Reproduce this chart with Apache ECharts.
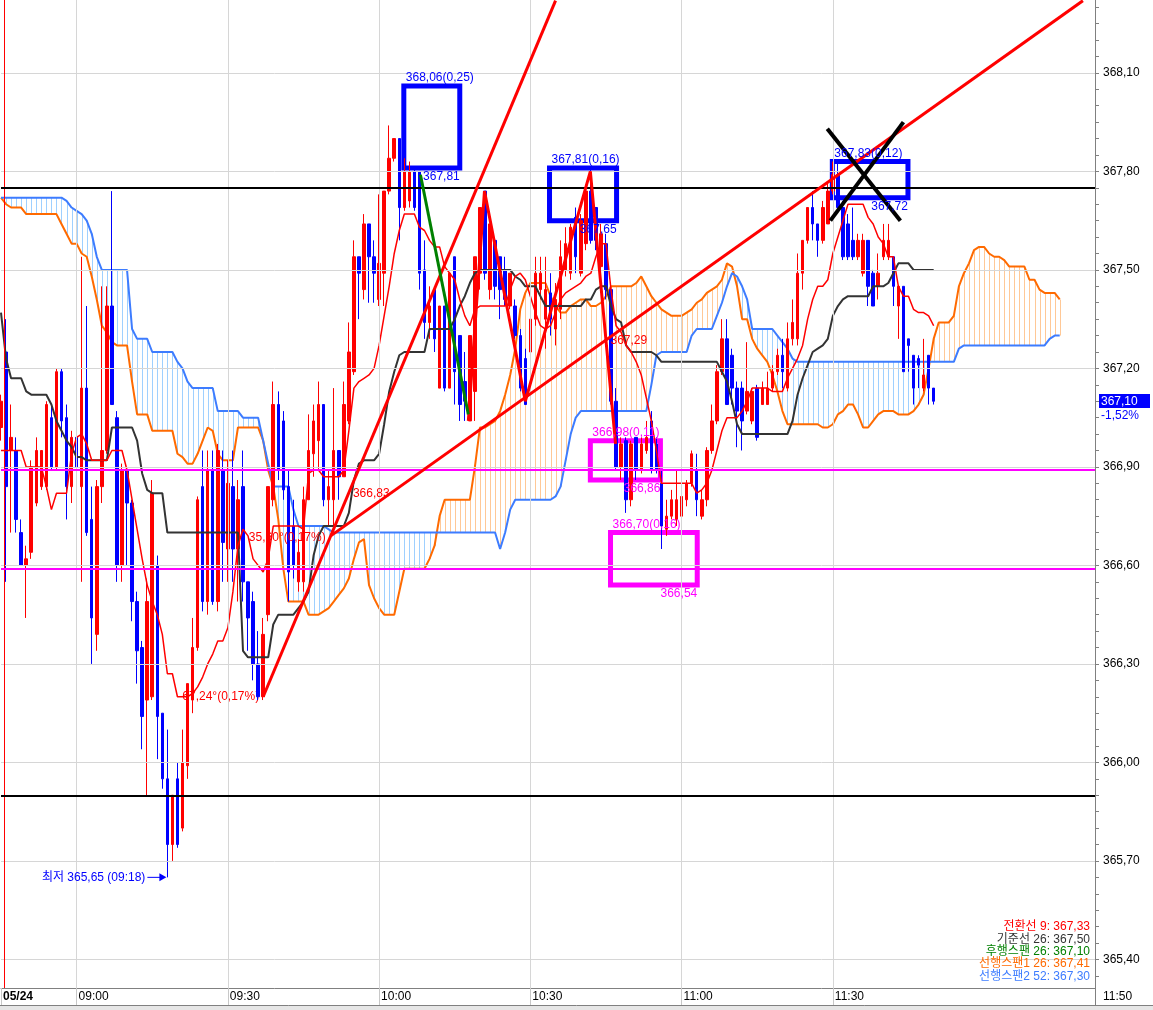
<!DOCTYPE html>
<html>
<head>
<meta charset="utf-8">
<title>1분봉 일목균형표</title>
<script src="https://cdn.jsdelivr.net/npm/echarts@6/dist/echarts.min.js"></script>
<style>
html,body{margin:0;padding:0;background:#fff;}
#main{width:1153px;height:1010px;}
</style>
</head>
<body>
<div id="main"></div>
<script>
var FONT = "'Liberation Sans Narrow','Liberation Sans','Noto Sans CJK KR',sans-serif";
var chart = echarts.init(document.getElementById('main'));

//1분봉 시가/종가/고가/저가 (08:45 ~ 11:50)
var opens = [
	367.02,367.25,366.95,366.95,366.70,366.60,366.64,366.79,366.84,366.84,
	367.05,366.90,367.19,367.05,366.84,366.99,366.84,367.14,366.74,366.39,
	366.84,366.95,367.39,367.05,366.60,366.89,366.79,366.49,366.35,366.19,
	366.20,366.60,366.15,365.95,365.75,365.95,365.80,365.99,366.19,366.35,
	366.84,366.49,366.89,366.49,366.89,366.65,366.84,366.65,366.84,366.55,
	366.49,366.30,366.20,366.45,366.80,367.09,367.04,366.84,366.72,366.55,
	366.55,366.80,366.94,366.98,367.09,366.80,366.80,366.95,366.87,367.04,
	367.19,367.54,367.44,367.64,367.54,367.41,367.49,367.74,367.84,367.90,
	367.69,367.71,367.80,367.80,367.50,367.34,367.44,367.14,367.39,367.14,
	367.54,367.30,367.16,367.04,367.13,367.49,367.74,367.44,367.59,367.54,
	367.50,367.39,367.39,367.30,367.23,367.25,367.35,367.44,367.35,367.43,
	367.32,367.38,367.50,367.49,367.66,367.49,367.58,367.74,367.69,367.51,
	367.58,367.44,367.10,366.90,366.98,366.80,366.99,366.89,366.95,367.04,
	366.97,366.85,366.71,366.75,366.74,366.75,366.80,366.85,366.89,366.75,
	366.80,366.95,367.04,367.19,367.29,367.24,367.14,367.14,367.07,367.04,
	367.14,367.09,367.09,367.14,367.19,367.24,367.14,367.29,367.29,367.49,
	367.59,367.69,367.64,367.59,367.64,367.74,367.79,367.69,367.64,367.59,
	367.54,367.49,367.59,367.49,367.45,367.54,367.54,367.54,367.39,367.45,
	367.29,367.24,367.23,367.14,367.24,367.14
];
var closes = [
	367.10,366.84,366.99,366.74,366.60,366.62,366.90,366.95,366.95,367.09,
	366.90,367.19,367.04,366.84,366.99,366.90,367.14,366.70,366.44,366.84,
	366.95,367.39,367.09,366.60,366.89,366.79,366.49,366.34,366.14,366.49,
	366.82,366.14,365.95,365.75,365.90,365.75,366.00,366.24,366.35,366.80,
	366.49,366.89,366.49,366.95,366.67,366.85,366.65,366.80,366.55,366.44,
	366.30,366.20,366.39,366.84,367.09,366.89,366.83,366.58,366.60,366.64,
	366.80,366.95,367.04,367.09,366.80,366.84,366.95,366.87,367.09,367.25,
	367.54,367.49,367.64,367.54,367.49,367.52,367.74,367.84,367.90,367.69,
	367.80,367.80,367.69,367.49,367.34,367.39,367.29,367.39,367.14,367.49,
	367.19,367.09,367.10,367.30,367.54,367.69,367.49,367.64,367.45,367.44,
	367.41,367.49,367.30,367.14,367.09,367.35,367.49,367.49,367.44,367.35,
	367.41,367.54,367.58,367.63,367.54,367.65,367.74,367.59,367.59,367.61,
	367.44,367.10,366.90,366.97,366.80,366.97,366.89,366.97,366.99,366.89,
	366.89,366.72,366.75,366.80,366.80,366.81,366.85,366.94,366.80,366.80,
	366.95,367.04,367.19,367.29,367.09,367.14,367.07,367.04,367.13,367.13,
	366.99,367.14,367.14,367.19,367.24,367.19,367.29,367.34,367.49,367.59,
	367.69,367.64,367.59,367.69,367.74,367.79,367.69,367.54,367.54,367.54,
	367.59,367.59,367.45,367.39,367.49,367.59,367.59,367.45,367.45,367.19,
	367.27,367.14,367.21,367.18,367.14,367.10
];
var highs = [
	367.12,367.35,367.09,366.99,366.74,366.66,366.92,366.99,366.95,367.10,
	367.09,367.20,367.20,367.09,367.01,367.09,367.54,367.39,366.84,366.86,
	367.45,367.45,367.74,367.07,366.91,366.89,366.80,366.52,366.37,366.56,
	366.86,366.63,366.15,366.10,365.90,366.00,366.10,366.24,366.44,366.81,
	366.95,366.95,366.95,366.97,366.95,366.92,366.95,366.86,366.95,366.55,
	366.52,366.40,366.44,366.84,367.16,367.13,367.07,366.89,366.80,366.68,
	366.84,367.06,367.09,367.16,367.09,366.89,367.14,366.95,367.16,367.34,
	367.59,367.54,367.67,367.64,367.59,367.73,367.74,367.94,367.90,367.90,
	367.84,367.83,367.81,367.80,367.59,367.45,367.44,367.39,367.39,367.49,
	367.54,367.30,367.25,367.30,367.54,367.69,367.74,367.64,367.59,367.54,
	367.54,367.49,367.41,367.32,367.26,367.54,367.54,367.54,367.54,367.49,
	367.46,367.59,367.63,367.64,367.69,367.67,367.76,367.81,367.69,367.64,
	367.61,367.45,367.14,366.99,366.99,366.98,366.99,366.99,367.04,367.07,
	366.99,366.89,366.80,366.83,366.89,366.83,366.86,366.95,366.94,366.83,
	366.96,367.09,367.21,367.35,367.35,367.26,367.16,367.16,367.28,367.14,
	367.15,367.16,367.19,367.21,367.26,367.29,367.34,367.41,367.55,367.59,
	367.69,367.74,367.64,367.71,367.77,367.83,367.83,367.71,367.67,367.69,
	367.61,367.61,367.59,367.50,367.55,367.64,367.64,367.54,367.45,367.45,
	367.29,367.24,367.24,367.29,367.24,367.14
];
var lows = [
	366.98,366.55,366.70,366.70,366.60,366.44,366.62,366.78,366.83,366.83,
	366.89,366.89,366.99,366.74,366.79,366.79,366.55,366.69,366.30,366.34,
	366.79,366.94,367.09,366.55,366.55,366.60,366.43,366.24,366.04,365.90,
	366.19,366.01,365.92,365.65,365.70,365.74,365.79,365.95,366.15,366.34,
	366.46,366.45,366.48,366.46,366.55,366.55,366.55,366.49,366.49,366.34,
	366.25,366.19,366.19,366.43,366.78,366.86,366.80,366.49,366.56,366.52,
	366.52,366.80,366.87,366.89,366.78,366.72,366.72,366.80,366.87,367.03,
	367.18,367.35,367.41,367.40,367.40,367.39,367.39,367.73,367.83,367.59,
	367.68,367.69,367.68,367.44,367.29,367.29,367.25,367.14,367.13,367.14,
	367.09,367.04,367.04,367.04,367.04,367.44,367.47,367.41,367.41,367.35,
	367.39,367.38,367.29,367.13,367.09,367.23,367.33,367.41,367.26,367.30,
	367.27,367.35,367.48,367.47,367.49,367.48,367.56,367.58,367.56,367.50,
	367.41,367.09,366.89,366.86,366.76,366.78,366.86,366.88,366.94,366.88,
	366.88,366.65,366.69,366.74,366.72,366.74,366.78,366.84,366.75,366.74,
	366.78,366.94,367.03,367.18,367.09,367.09,366.96,366.95,367.06,367.03,
	366.98,367.09,367.09,367.13,367.18,367.14,367.13,367.27,367.27,367.44,
	367.58,367.59,367.54,367.58,367.64,367.73,367.68,367.53,367.53,367.53,
	367.53,367.48,367.39,367.39,367.41,367.53,367.53,367.39,367.29,367.19,
	367.19,367.09,367.14,367.13,367.09,367.09
];
//전환선(9)
var tenkan = [
	366.95,366.95,366.95,366.95,366.95,366.90,366.90,366.90,366.90,366.84,
	366.77,366.82,366.82,366.82,366.94,366.99,367.00,366.97,366.92,366.92,
	366.92,366.92,366.95,366.95,366.95,366.89,366.80,366.71,366.62,366.54,
	366.49,366.45,366.39,366.27,366.27,366.20,366.20,366.20,366.21,366.23,
	366.26,366.30,366.33,366.37,366.37,366.41,366.52,366.66,366.71,366.69,
	366.62,366.60,366.58,366.62,366.72,366.72,366.72,366.72,366.72,366.72,
	366.71,366.88,366.89,366.89,366.87,366.87,366.87,366.87,366.89,367.01,
	367.14,367.16,367.17,367.18,367.20,367.27,367.36,367.45,367.55,367.62,
	367.67,367.67,367.67,367.63,367.62,367.59,367.57,367.57,367.51,367.49,
	367.47,367.41,367.36,367.33,367.38,367.39,367.39,367.39,367.39,367.39,
	367.39,367.44,367.48,367.49,367.47,367.42,367.37,367.33,367.32,367.33,
	367.37,367.41,367.43,367.44,367.45,367.46,367.48,367.49,367.54,367.58,
	367.58,367.44,367.33,367.31,367.27,367.25,367.22,367.18,367.11,367.04,
	366.95,366.85,366.85,366.85,366.85,366.85,366.85,366.85,366.82,366.83,
	366.85,366.89,366.95,367.01,367.05,367.05,367.05,367.07,367.10,367.14,
	367.14,367.14,367.14,367.13,367.13,367.13,367.17,367.20,367.23,367.27,
	367.35,367.41,367.45,367.45,367.47,367.55,367.60,367.65,367.70,367.70,
	367.70,367.70,367.66,367.64,367.60,367.58,367.54,367.54,367.45,367.42,
	367.42,367.38,367.37,367.37,367.36,367.33
];
//기준선(26)
var kijun = [
	367.37,367.23,367.17,367.17,367.17,367.13,367.12,367.12,367.12,367.12,
	367.09,367.04,367.01,366.98,366.96,366.93,366.93,366.92,366.92,366.92,
	366.92,366.92,367.02,367.02,367.02,367.02,367.02,366.98,366.88,366.83,
	366.82,366.82,366.82,366.70,366.70,366.70,366.70,366.70,366.70,366.70,
	366.70,366.70,366.70,366.70,366.70,366.70,366.70,366.70,366.34,366.32,
	366.32,366.32,366.32,366.32,366.42,366.45,366.45,366.45,366.45,366.47,
	366.49,366.52,366.63,366.69,366.72,366.72,366.72,366.72,366.72,366.76,
	366.86,366.91,366.92,366.92,366.92,366.94,367.03,367.13,367.19,367.24,
	367.25,367.25,367.25,367.25,367.25,367.32,367.32,367.32,367.32,367.32,
	367.35,367.39,367.42,367.46,367.49,367.50,367.50,367.50,367.50,367.50,
	367.50,367.50,367.48,367.47,367.45,367.45,367.45,367.42,367.39,367.39,
	367.39,367.39,367.39,367.39,367.39,367.39,367.41,367.41,367.44,367.45,
	367.45,367.39,367.35,367.34,367.27,367.25,367.25,367.25,367.25,367.25,
	367.24,367.22,367.22,367.22,367.22,367.22,367.22,367.22,367.22,367.22,
	367.22,367.22,367.22,367.19,367.16,367.10,367.03,367.00,367.00,367.00,
	367.00,367.00,367.00,367.00,367.00,367.00,367.00,367.04,367.12,367.17,
	367.21,367.25,367.26,367.27,367.29,367.36,367.39,367.41,367.42,367.42,
	367.42,367.42,367.42,367.45,367.45,367.45,367.46,367.49,367.52,367.52,
	367.52,367.50,367.50,367.50,367.50,367.50
];
//선행스팬1(26) - 26봉 앞까지
var spanA = [
	367.72,367.70,367.69,367.69,367.69,367.67,367.67,367.67,367.67,367.67,
	367.67,367.67,367.64,367.61,367.58,367.58,367.55,367.54,367.48,367.41,
	367.33,367.31,367.28,367.27,367.27,367.27,367.16,367.06,367.06,367.06,
	367.01,367.01,367.01,367.01,367.01,366.94,366.93,366.91,366.91,366.94,
	366.98,367.02,367.01,366.94,366.92,366.92,366.92,367.02,367.02,367.02,
	367.02,367.02,366.98,366.89,366.84,366.74,366.59,366.49,366.49,366.49,
	366.49,366.45,366.45,366.45,366.46,366.47,366.49,366.51,366.53,366.56,
	366.62,366.67,366.68,366.54,366.50,366.47,366.45,366.45,366.45,366.52,
	366.59,366.59,366.59,366.59,366.59,366.62,366.66,366.75,366.80,366.80,
	366.80,366.80,366.80,366.80,366.90,367.02,367.02,367.03,367.04,367.07,
	367.12,367.18,367.26,367.38,367.43,367.46,367.46,367.46,367.46,367.42,
	367.39,367.37,367.37,367.39,367.40,367.41,367.41,367.39,367.39,367.40,
	367.42,367.45,367.45,367.45,367.45,367.45,367.46,367.48,367.45,367.42,
	367.40,367.38,367.37,367.36,367.36,367.36,367.37,367.38,367.40,367.41,
	367.43,367.44,367.45,367.47,367.52,367.51,367.45,367.35,367.35,367.29,
	367.26,367.24,367.22,367.18,367.13,367.07,367.03,367.03,367.03,367.03,
	367.03,367.03,367.03,367.02,367.02,367.03,367.06,367.07,367.09,367.09,
	367.06,367.02,367.02,367.04,367.06,367.07,367.07,367.07,367.06,367.06,
	367.06,367.07,367.09,367.12,367.20,367.29,367.34,367.34,367.34,367.36,
	367.45,367.49,367.52,367.56,367.57,367.57,367.55,367.54,367.54,367.53,
	367.51,367.51,367.51,367.51,367.47,367.47,367.44,367.43,367.43,367.43,
	367.41
];
//선행스팬2(52) - 26봉 앞까지
var spanB = [
	367.72,367.72,367.72,367.72,367.72,367.72,367.72,367.72,367.72,367.72,
	367.72,367.72,367.72,367.71,367.69,367.68,367.67,367.65,367.61,367.54,
	367.50,367.50,367.50,367.50,367.50,367.50,367.32,367.29,367.29,367.29,
	367.25,367.25,367.25,367.25,367.25,367.22,367.20,367.16,367.14,367.14,
	367.14,367.14,367.14,367.07,367.07,367.07,367.07,367.07,367.05,367.05,
	367.05,367.05,366.98,366.91,366.84,366.84,366.84,366.84,366.77,366.72,
	366.72,366.72,366.72,366.72,366.72,366.71,366.70,366.70,366.70,366.70,
	366.70,366.70,366.70,366.70,366.70,366.70,366.70,366.70,366.70,366.70,
	366.70,366.70,366.70,366.70,366.70,366.70,366.70,366.70,366.70,366.70,
	366.70,366.70,366.70,366.70,366.70,366.70,366.70,366.70,366.70,366.65,
	366.70,366.77,366.80,366.80,366.80,366.80,366.80,366.80,366.80,366.80,
	366.81,366.84,366.92,367.00,367.05,367.07,367.07,367.07,367.07,367.07,
	367.07,367.07,367.07,367.07,367.07,367.07,367.07,367.07,367.07,367.15,
	367.24,367.25,367.25,367.25,367.25,367.25,367.25,367.30,367.32,367.32,
	367.32,367.32,367.36,367.40,367.45,367.49,367.48,367.45,367.41,367.32,
	367.32,367.32,367.32,367.32,367.30,367.28,367.26,367.23,367.22,367.22,
	367.22,367.22,367.22,367.22,367.22,367.22,367.22,367.22,367.22,367.22,
	367.22,367.22,367.22,367.22,367.22,367.22,367.22,367.22,367.22,367.22,
	367.22,367.22,367.22,367.22,367.22,367.22,367.22,367.22,367.22,367.22,
	367.26,367.27,367.27,367.27,367.27,367.27,367.27,367.27,367.27,367.27,
	367.27,367.27,367.27,367.27,367.27,367.27,367.27,367.27,367.29,367.30,
	367.30
];
//축 라벨
var timeIdx  = [0, 15, 45, 75, 105, 135, 165];
var timeText = ['05/24', '09:00', '09:30', '10:00', '10:30', '11:00', '11:30'];
var priceLabels = [365.4, 365.7, 366.0, 366.3, 366.6, 366.9, 367.2, 367.5, 367.8, 368.1];
//수평선
var blackLevels = [367.75, 365.90];
var pinkLevels  = [366.89, 366.59];
//추세선 [봉번호, 가격]
var trend1 = [[52, 366.20], [110, 368.32]];
var trend2 = [[65.4, 366.69], [214.6, 368.32]];
var wave   = [[92.7, 367.04], [95.9, 367.74], [104.0, 367.10], [116.9, 367.80], [121.9, 366.97]];
var greenSeg = [[83.2, 367.79], [92.7, 367.06]];
var crossA = [[163.9, 367.93], [178.4, 367.65]];
var crossB = [[164.5, 367.65], [179.0, 367.95]];
//가격 박스
var boxes = [
	{x1: 79.9,  x2: 91.0,  top: 368.06, bottom: 367.81, color: '#0000ff', topText: '368,06(0,25)', bottomText: '367,81'},
	{x1: 108.8, x2: 122.1, top: 367.81, bottom: 367.65, color: '#0000ff', topText: '367,81(0,16)', bottomText: '367,65'},
	{x1: 164.9, x2: 179.9, top: 367.83, bottom: 367.72, color: '#0000ff', topText: '367,83(0,12)', bottomText: '367,72'},
	{x1: 116.9, x2: 130.8, top: 366.98, bottom: 366.86, color: '#ff00ff', topText: '366,98(0,11)', bottomText: '366,86'},
	{x1: 120.9, x2: 138.1, top: 366.70, bottom: 366.54, color: '#ff00ff', topText: '366,70(0,16)', bottomText: '366,54'}
];

var fmt = function (v) { return v.toFixed(2).replace('.', ','); };

var candleRows = [];
for (var i = 0; i < opens.length; i++) {
	candleRows.push([i, opens[i], closes[i], lows[i], highs[i]]);
}
var toRows = function (arr) { return arr.map(function (v, k) { return [k, v]; }); };
var cloudRows = spanA.map(function (v, k) { return [k, v, spanB[k]]; });
var yTicks = [];
for (var t = 7307; t <= 7366; t++) { yTicks.push(t / 20); }

var hidden = {type: 'line', data: [[0, 367]], symbol: 'none', lineStyle: {opacity: 0}, silent: true};
var seg = function (data, color, width, z) {
	return {type: 'line', data: data, symbol: 'none', silent: true, z: z,
		lineStyle: {color: color, width: width}};
};

var gridLines = priceLabels.map(function (v) { return {yAxis: v}; })
	.concat(timeIdx.slice(1).map(function (v) { return {xAxis: v}; }));
var levelLines = [{xAxis: 0.6, lineStyle: {color: '#ff0000', width: 1}}]
	.concat(blackLevels.map(function (v) { return {yAxis: v, lineStyle: {color: '#000000', width: 2}}; }))
	.concat(pinkLevels.map(function (v) { return {yAxis: v, lineStyle: {color: '#ff00ff', width: 2}}; }));

var option = {
	animation: false,
	backgroundColor: '#ffffff',
	grid: {left: 0, right: 58, top: 0, bottom: 22},
	xAxis: {
		type: 'value', min: 0, max: 217,
		axisLine: {show: true, onZero: false, lineStyle: {color: '#808080'}},
		axisTick: {show: true, customValues: timeIdx, length: 17, lineStyle: {color: '#c8c8c8'}},
		axisLabel: {
			customValues: timeIdx, align: 'left', margin: 3, padding: [0, 0, 0, 2],
			color: '#000', fontSize: 12, fontFamily: FONT,
			formatter: function (v) {
				var k = timeIdx.indexOf(Math.round(v));
				return k === 0 ? '{b|' + timeText[0] + '}' : (k > 0 ? timeText[k] : '');
			},
			rich: {b: {fontWeight: 'bold', fontSize: 12, fontFamily: FONT, color: '#000'}}
		},
		splitLine: {show: false}
	},
	yAxis: {
		type: 'value', position: 'right', min: 365.313, max: 368.322,
		axisLine: {show: true, onZero: false, lineStyle: {color: '#808080'}},
		axisTick: {show: true, customValues: yTicks, length: 4, lineStyle: {color: '#808080'}},
		axisLabel: {customValues: priceLabels, formatter: fmt, margin: 8, color: '#000', fontSize: 12, fontFamily: FONT},
		splitLine: {show: false}
	},
	series: [
		echarts.util.merge({z: 0, markLine: {silent: true, symbol: ['none', 'none'], label: {show: false},
			lineStyle: {color: '#d6d6d6', width: 1, type: 'solid'}, data: gridLines}}, hidden),
		{
			type: 'custom', z: 1, silent: true, clip: true, data: cloudRows, encode: {x: 0, y: [1, 2]},
			renderItem: function (params, api) {
				var a = api.value(1), b = api.value(2);
				var p1 = api.coord([api.value(0), a]);
				var p2 = api.coord([api.value(0), b]);
				var x = Math.round(p1[0]) + 0.5;
				return {type: 'line', shape: {x1: x, y1: p1[1], x2: x, y2: p2[1]},
					style: {stroke: a >= b ? '#ffc896' : '#9fd0ff', lineWidth: 1}};
			}
		},
		seg(toRows(spanA), '#ff6a00', 2, 2),
		seg(toRows(spanB), '#3d7cff', 2, 2),
		{
			type: 'candlestick', z: 3, silent: true, data: candleRows, encode: {x: 0, y: [1, 2, 3, 4]},
			barWidth: 3,
			itemStyle: {color: '#ff0000', color0: '#0000ff', borderColor: '#ff0000', borderColor0: '#0000ff', borderWidth: 1}
		},
		seg(toRows(kijun), '#333333', 2, 4),
		seg(toRows(tenkan), '#ff0000', 1.5, 4),
		echarts.util.merge({z: 5, markLine: {silent: true, symbol: ['none', 'none'], label: {show: false},
			lineStyle: {type: 'solid'}, data: levelLines}}, hidden),
		seg(trend1, '#ff0000', 3, 6),
		seg(trend2, '#ff0000', 3, 6),
		seg(wave, '#ff0000', 3, 6),
		seg(greenSeg, '#008000', 3, 6),
		seg(crossA, '#000000', 4, 7),
		seg(crossB, '#000000', 4, 7),
		echarts.util.merge({z: 7, markArea: {silent: true, data: boxes.map(function (b) {
			return [{coord: [b.x1, b.top], itemStyle: {color: 'rgba(0,0,0,0)', borderColor: b.color, borderWidth: 5}},
				{coord: [b.x2, b.bottom]}];
		})}}, hidden)
	]
};
chart.setOption(option);

//주석 텍스트
var px = function (x, y) { return chart.convertToPixel({gridIndex: 0}, [x, y]); };
var txt = function (s, x, y, color, align, valign, z, font) {
	return {type: 'text', x: x, y: y, z: z || 50, silent: true,
		style: {text: s, fill: color, font: font || ('12px ' + FONT),
			align: align, textAlign: align, verticalAlign: valign, textVerticalAlign: valign}};
};
var g = [];
boxes.forEach(function (b) {
	var tl = px(b.x1, b.top), br = px(b.x2, b.bottom);
	g.push(txt(b.topText, tl[0] + 2, tl[1] - 2, b.color, 'left', 'bottom'));
	g.push(txt(b.bottomText, br[0], br[1] + 3, b.color, 'right', 'top'));
});
//추세선 각도/가격
var s1 = px(trend1[0][0], trend1[0][1]);
g.push(txt('67,24°(0,17%)', s1[0] - 4, s1[1], '#ff0000', 'right', 'middle', 1));
var s2 = px(trend2[0][0], trend2[0][1]);
g.push(txt('35,60°(0,17%)', s2[0] - 5, s2[1] + 2, '#ff0000', 'right', 'middle'));
var t1 = px(69.4, 366.83);
g.push(txt('366,83', t1[0] + 2, t1[1] + 4, '#ff0000', 'left', 'middle'));
var t2 = px(120.7, 367.29);
g.push(txt('367,29', t2[0] + 1, t2[1] + 2, '#ff0000', 'left', 'middle'));
//최저가
var lowIdx = 33;
var lp = px(lowIdx, lows[lowIdx]);
g.push(txt('최저 ' + fmt(lows[lowIdx]) + ' (09:18)', lp[0] - 22, lp[1], '#0000ff', 'right', 'middle'));
g.push({type: 'line', z: 50, shape: {x1: lp[0] - 20, y1: lp[1], x2: lp[0] - 4, y2: lp[1]}, style: {stroke: '#0000ff', lineWidth: 1}});
g.push({type: 'polygon', z: 50, shape: {points: [[lp[0] - 1, lp[1]], [lp[0] - 8, lp[1] - 4], [lp[0] - 8, lp[1] + 4]]}, style: {fill: '#0000ff'}});
//범례
var lastClose = closes[closes.length - 1];
var legendRows = [
	['전환선 9: ' + fmt(tenkan[tenkan.length - 1]), '#ff0000'],
	['기준선 26: ' + fmt(kijun[kijun.length - 1]), '#333333'],
	['후행스팬 26: ' + fmt(lastClose), '#008000'],
	['선행스팬1 26: ' + fmt(spanA[spanA.length - 1]), '#ff6a00'],
	['선행스팬2 52: ' + fmt(spanB[spanB.length - 1]), '#3d7cff']
];
legendRows.forEach(function (r, k) {
	g.push(txt(r[0], 1090, 927 + k * 12.3, r[1], 'right', 'middle'));
});
//현재가
var cp = px(217, lastClose);
g.push({type: 'rect', z: 50, shape: {x: 1099, y: Math.round(cp[1]) - 7, width: 51, height: 14}, style: {fill: '#0000ff'}});
g.push(txt(fmt(lastClose), 1101, cp[1], '#ffffff', 'left', 'middle'));
g.push(txt('-1,52%', 1101, cp[1] + 14, '#0000ff', 'left', 'middle'));
//하단 시간축 마감
g.push(txt('11:50', 1103, 997, '#000000', 'left', 'middle'));
g.push({type: 'line', z: 50, shape: {x1: 1095.5, y1: 988, x2: 1095.5, y2: 1005}, style: {stroke: '#808080', lineWidth: 1}});
g.push({type: 'rect', z: 50, shape: {x: 0, y: 1005, width: 1153, height: 5}, style: {fill: '#e6e6e6'}});
g.push({type: 'line', z: 50, shape: {x1: 0, y1: 1005.5, x2: 1153, y2: 1005.5}, style: {stroke: '#808080', lineWidth: 1}});
chart.setOption({graphic: g});
</script>
</body>
</html>
